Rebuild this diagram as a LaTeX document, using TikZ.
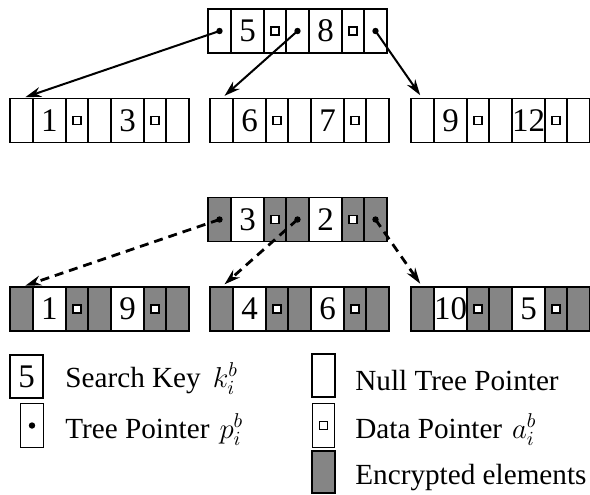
\documentclass[tikz,border=0pt]{standalone}
\usepackage{fontspec}
\setmainfont{Liberation Serif}
\usepackage{tikz}
\usetikzlibrary{arrows.meta,positioning}

\begin{document}
\begin{tikzpicture}[x=0.5pt,y=-0.5pt,
    cell/.style={draw, line width=0.9pt, minimum height=22pt, inner sep=0pt, outer sep=0pt},
    ptr/.style={cell, minimum width=11.5pt},
    key/.style={cell, fill=white, minimum width=16.5pt, font=\fontsize{16.5}{16}\selectfont},
    dat/.style={cell, minimum width=11pt,
      path picture={\draw[fill=white, line width=0.6pt]
        ([shift={(-2pt,-2pt)}]path picture bounding box.center) rectangle ++(4pt,4pt);}},
    enc/.style={fill=black!48},
    label/.style={anchor=base west, inner sep=0pt, font=\fontsize{14.6}{16}\selectfont},
    tree/.style={-{Stealth[length=8pt,width=5pt]}, line width=1pt, shorten >=2pt},
    etree/.style={tree, line width=1.4pt, dash pattern=on 4.5pt off 3pt}]

  \useasboundingbox (0,0) rectangle (590,494);

  % B-tree nodes: pointer, key, data, pointer, key, data, pointer
  \foreach \nm/\x/\y/\ka/\kb/\sh in {root/208/31/5/8/white, l/10/120.5/1/3/white,
      m/210/120.5/6/7/white, r/411/120.5/9/12/white,
      eroot/208/219.5/3/2/black!48, el/10/309/1/9/black!48,
      em/210/309/4/6/black!48, er/411/309/10/5/black!48} {
    \node[ptr, fill=\sh, anchor=west] (\nm-p1) at (\x,\y) {};
    \node[key, right=0pt of \nm-p1] (\nm-k1) {\ka};
    \node[dat, fill=\sh, right=0pt of \nm-k1] (\nm-d1) {};
    \node[ptr, fill=\sh, right=0pt of \nm-d1] (\nm-p2) {};
    \node[key, right=0pt of \nm-p2] (\nm-k2) {\kb};
    \node[dat, fill=\sh, right=0pt of \nm-k2] (\nm-d2) {};
    \node[ptr, fill=\sh, right=0pt of \nm-d2] (\nm-p3) {};
  }

  % Plain tree pointers
  \foreach \p/\c in {p1/l, p2/m, p3/r} {
    \fill (root-\p) circle (1.6pt);
    \draw[tree] (root-\p.center) -- (\c-p1.north);
  }

  % Encrypted tree pointers
  \foreach \p/\c in {p1/el, p2/em, p3/er} {
    \fill (eroot-\p) circle (1.6pt);
    \draw[etree] (eroot-\p.center) -- (\c-p1.north);
  }

  % Legend
  \node[key, minimum height=21.5pt] (lg-key) at (26.5,376.5) {5};
  \node[label] (lg-keytxt) at (65,387) {Search Key\hspace{6pt}$k_i^b$};
  \node[ptr] (lg-ptr) at (32,425.5) {};
  \fill (lg-ptr) circle (1.6pt);
  \node[label] (lg-ptrtxt) at (65,438) {Tree Pointer\hspace{5pt}$p_i^b$};
  \node[ptr, minimum height=21.5pt] (lg-null) at (323.5,375.5) {};
  \node[label] (lg-nulltxt) at (355,390) {Null Tree Pointer};
  \node[dat] (lg-dat) at (323.5,425.5) {};
  \node[label] (lg-dattxt) at (355,438) {Data Pointer\hspace{5pt}$a_i^b$};
  \node[ptr, enc, minimum height=21pt] (lg-enc) at (323.5,472) {};
  \node[label] (lg-enctxt) at (355,484) {Encrypted elements};

\end{tikzpicture}
\end{document}
